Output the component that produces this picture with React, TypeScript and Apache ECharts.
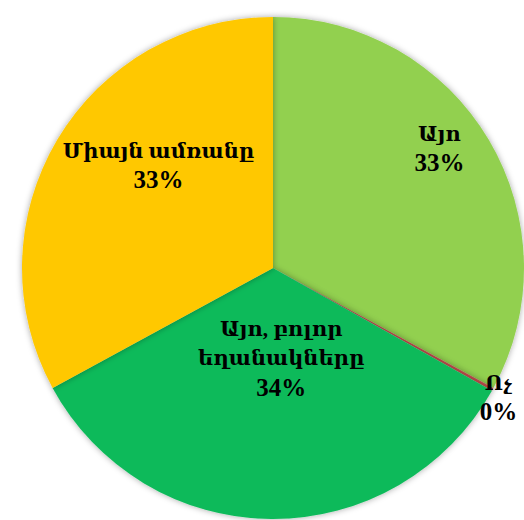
import React, { useEffect, useRef } from "react";
import * as echarts from "echarts";

const categories = ["Այո", "Ոչ", "Այո, բոլոր\nեղանակները", "Միայն ամռանը"];
const values = [33, 0.2, 34, 33];
const colors = ["#92D050", "#C0504D", "#0DBA5A", "#FFC800"];
const labelShift = [
  [56, -54],
  [113, 67],
  [9, -38],
  [-4, -37],
];

export default function App() {
  const ref = useRef<HTMLDivElement>(null);
  useEffect(() => {
    document.body.style.margin = "0";
    const chart = echarts.init(ref.current!, null, { renderer: "svg" });
    const fam = "'Liberation Serif', 'DejaVu Serif', serif";
    chart.setOption({
      animation: false,
      backgroundColor: "#ffffff",
      series: [
        {
          type: "pie",
          center: [273, 268],
          radius: 251,
          startAngle: 90,
          clockwise: true,
          avoidLabelOverlap: false,
          data: categories.map((name, i) => ({
            name,
            value: values[i],
            itemStyle: {
              color: colors[i],
              shadowBlur: 6,
              shadowColor: "rgba(0,0,0,0.35)",
            },
          })),
          label: {
            show: true,
            position: "inside",
            color: "#000",
            fontWeight: "bold",
            fontSize: 21,
            lineHeight: 29,
            fontFamily: fam,
            formatter: (p: any) =>
              p.name
                .split("\n")
                .map((s: string) => `{n|${s}}`)
                .join("\n") + `\n{p|${Math.round(p.percent)}%}`,
            rich: {
              n: { fontSize: 21, lineHeight: 29, fontWeight: "bold", fontFamily: fam, color: "#000" },
              p: { fontSize: 25, lineHeight: 29, fontWeight: "bold", fontFamily: fam, color: "#000" },
            },
          },
          labelLine: { show: false },
          labelLayout: (p: any) => ({
            dx: labelShift[p.dataIndex][0],
            dy: labelShift[p.dataIndex][1],
          }),
          emphasis: { disabled: true },
        },
      ],
    });
    return () => chart.dispose();
  }, []);
  return <div ref={ref} style={{ width: 524, height: 520 }} />;
}
